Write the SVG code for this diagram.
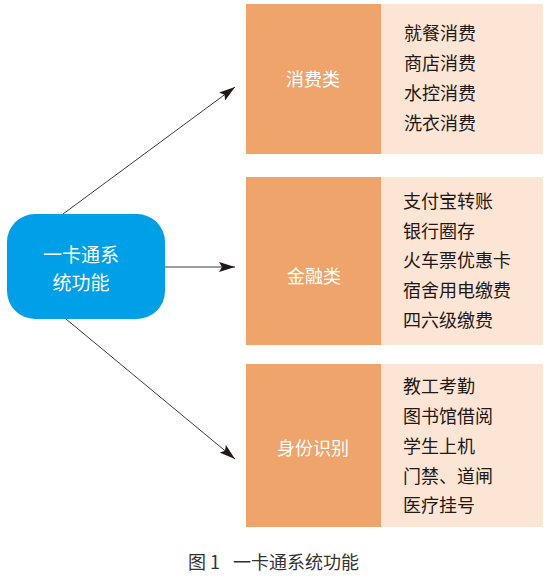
<svg xmlns="http://www.w3.org/2000/svg" width="550" height="577" viewBox="0 0 550 577">
<style>
text{font-family:"Noto Sans CJK SC","Noto Sans",sans-serif}
.dk{fill:#eea46b}
.lt{fill:#fce5d4}
.cat{fill:#fff;font-size:18px;text-anchor:middle}
.item{fill:#231815;font-size:18px}
.node{fill:#fff;font-size:19px;text-anchor:middle}
.ln{stroke:#3a3a3a;stroke-width:1;fill:none}
.cap{fill:#333;font-size:18px}
</style>
<defs>
<marker id="ah" viewBox="0 0 16 10" refX="16" refY="5" markerWidth="16" markerHeight="10" markerUnits="userSpaceOnUse" orient="auto">
<path d="M0,0 L16,5 L0,10 L3,5 Z" fill="#231815"/>
</marker>
</defs>
<rect width="550" height="577" fill="#fff"/>
<g id="connectors">
<line class="ln" x1="63" y1="214" x2="235" y2="87" marker-end="url(#ah)"/>
<line class="ln" x1="165" y1="267" x2="235" y2="267" marker-end="url(#ah)"/>
<line class="ln" x1="66" y1="319" x2="235" y2="459" marker-end="url(#ah)"/>
</g>
<g id="root">
<rect x="7" y="214" width="158" height="105" rx="28" fill="#00a0e9"/>
<text class="node" x="81" y="262">一卡通系</text>
<text class="node" x="81" y="290">统功能</text>
</g>
<g id="consume">
<rect class="dk" x="246" y="4" width="135" height="150"/>
<rect class="lt" x="381" y="4" width="162" height="150"/>
<text class="cat" x="313" y="86">消费类</text>
<text class="item" x="404" y="40">就餐消费</text>
<text class="item" x="404" y="70">商店消费</text>
<text class="item" x="404" y="100">水控消费</text>
<text class="item" x="404" y="130">洗衣消费</text>
</g>
<g id="finance">
<rect class="dk" x="246" y="177" width="135" height="168"/>
<rect class="lt" x="381" y="177" width="162" height="168"/>
<text class="cat" x="314" y="283">金融类</text>
<text class="item" x="403" y="208">支付宝转账</text>
<text class="item" x="403" y="238">银行圈存</text>
<text class="item" x="403" y="267">火车票优惠卡</text>
<text class="item" x="403" y="297">宿舍用电缴费</text>
<text class="item" x="403" y="327">四六级缴费</text>
</g>
<g id="identity">
<rect class="dk" x="246" y="364" width="135" height="163"/>
<rect class="lt" x="381" y="364" width="162" height="163"/>
<text class="cat" x="313" y="455">身份识别</text>
<text class="item" x="403" y="393">教工考勤</text>
<text class="item" x="403" y="423">图书馆借阅</text>
<text class="item" x="403" y="453">学生上机</text>
<text class="item" x="403" y="483">门禁、道闸</text>
<text class="item" x="403" y="512">医疗挂号</text>
</g>
<text class="cap" y="569"><tspan x="188">图 1</tspan><tspan x="233">一卡通系统功能</tspan></text>
</svg>
